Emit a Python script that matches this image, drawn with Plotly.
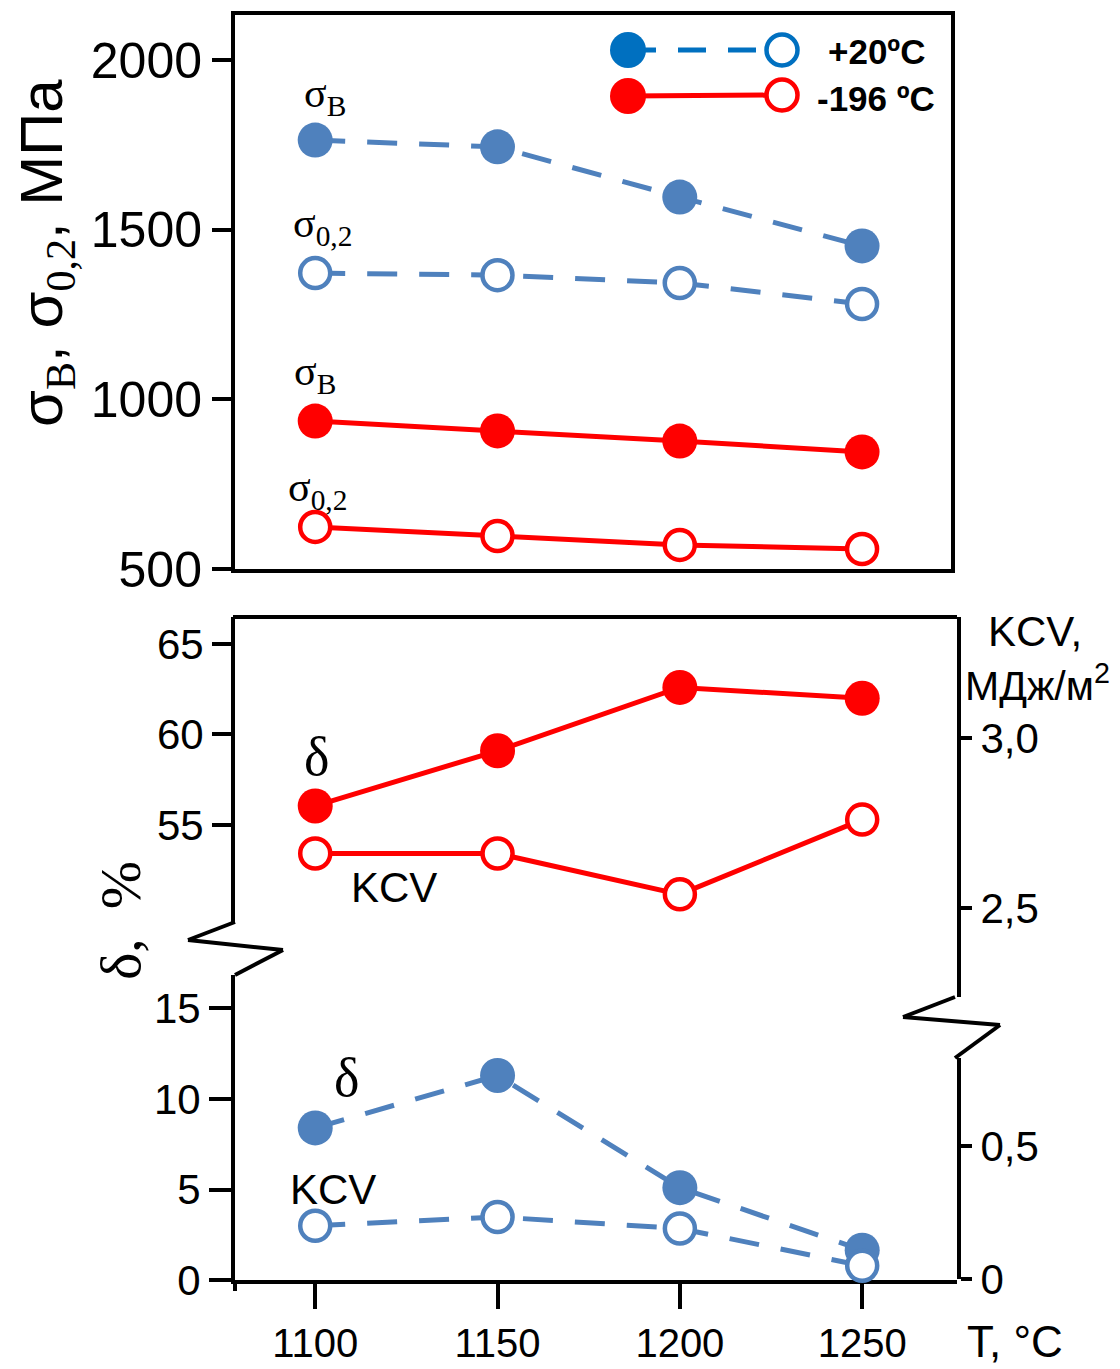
import plotly.graph_objects as go

# ---------------- data ----------------
T = [1100, 1150, 1200, 1250]
sigB_20 = [1764, 1744, 1596, 1452]
sig02_20 = [1372, 1366, 1343, 1281]
sigB_196 = [936, 907, 877, 845]
sig02_196 = [624, 597, 571, 559]
delta_196 = [56.05, 59.1, 62.6, 62.0]
kcv_196 = [2.66, 2.66, 2.54, 2.76]
delta_20 = [8.4, 11.3, 5.1, 1.65]
kcv_20 = [0.20, 0.233, 0.19, 0.05]

x_ticks = [1100, 1150, 1200, 1250]
top_ticks = [500, 1000, 1500, 2000]
delta_up_ticks = [55, 60, 65]
delta_lo_ticks = [0, 5, 10, 15]
kcv_up_ticks = [2.5, 3.0]
kcv_up_text = ["2,5", "3,0"]
kcv_lo_ticks = [0, 0.5]
kcv_lo_text = ["0", "0,5"]

BLUE = "#4F81BD"
LBLUE = "#0070C0"
RED = "#FF0000"
SANS = "Liberation Sans, Arial, sans-serif"
SERIF = "Liberation Serif, Times New Roman, serif"

OFF = 8  # browser body margin
W, H = 1120 - OFF, 1369 - OFF


def fx(p):
    return (p - OFF) / W


def fy(p):
    return 1 - (p - OFF) / H


fig = go.Figure()

DASH = "30px,22px"


def add(xs, ys, color, filled, dashed, xa, ya):
    fig.add_trace(go.Scatter(
        x=xs, y=ys, xaxis=xa, yaxis=ya, mode="lines+markers",
        line=dict(color=color, width=5, dash=DASH if dashed else "solid"),
        marker=dict(
            size=35 if filled else 30,
            color=color if filled else "white",
            line=dict(color=color, width=0 if filled else 4.5),
        ),
        cliponaxis=False, showlegend=False, hoverinfo="skip",
    ))


# top panel
add(T, sigB_20, BLUE, True, True, "x", "y")
add(T, sig02_20, BLUE, False, True, "x", "y")
add(T, sigB_196, RED, True, False, "x", "y")
add(T, sig02_196, RED, False, False, "x", "y")
# bottom panel
add(T, delta_196, RED, True, False, "x2", "y2")
add(T, kcv_196, RED, False, False, "x2", "y4")
add(T, delta_20, BLUE, True, True, "x2", "y3")
add(T, kcv_20, BLUE, False, True, "x2", "y5")

axcommon = dict(showline=True, linecolor="black", linewidth=4, showgrid=False,
                zeroline=False, automargin=False, tickcolor="black", tickwidth=4)

fig.update_layout(
    width=W, height=H,
    margin=dict(l=0, r=0, t=0, b=0),
    paper_bgcolor="white", plot_bgcolor="rgba(0,0,0,0)",
    showlegend=False,
    xaxis=dict(**axcommon, domain=[fx(235), fx(951)], range=[1078, 1274.4],
               anchor="y", mirror=True, ticks="", showticklabels=False),
    yaxis=dict(**axcommon, domain=[fy(569), fy(15)], range=[500, 2132.6],
               anchor="x", mirror=True, ticks="outside", ticklen=19,
               tickvals=top_ticks, tickfont=dict(family=SANS, size=50, color="black")),
    xaxis2=dict(**axcommon, domain=[fx(235), fx(957)], range=[1078, 1276],
                anchor="y3", ticks="outside", ticklen=25, tickvals=x_ticks,
                tickfont=dict(family=SANS, size=40, color="black")),
    yaxis2=dict(**axcommon, domain=[fy(922), fy(617)], range=[49.64, 66.49],
                anchor="x2", ticks="outside", ticklen=19, tickvals=delta_up_ticks,
                tickfont=dict(family=SANS, size=42, color="black")),
    yaxis3=dict(**axcommon, domain=[fy(1280), fy(975)], range=[0, 16.85],
                anchor="x2", ticks="outside", ticklen=22, tickvals=delta_lo_ticks,
                tickfont=dict(family=SANS, size=42, color="black")),
    yaxis4=dict(**axcommon, domain=[fy(997), fy(617)], range=[2.238, 3.356],
                anchor="x2", side="right", ticks="outside", ticklen=11,
                tickvals=kcv_up_ticks, ticktext=kcv_up_text,
                tickfont=dict(family=SANS, size=42, color="black")),
    yaxis5=dict(**axcommon, domain=[fy(1279), fy(1058)], range=[0, 0.831],
                anchor="x2", side="right", ticks="outside", ticklen=11,
                tickvals=kcv_lo_ticks, ticktext=kcv_lo_text,
                tickfont=dict(family=SANS, size=42, color="black")),
)

shapes = []


def pline(pts, color="black", width=4, dash="solid"):
    for (x0, y0), (x1, y1) in zip(pts[:-1], pts[1:]):
        shapes.append(dict(type="line", xref="paper", yref="paper",
                           x0=fx(x0), y0=fy(y0), x1=fx(x1), y1=fy(y1),
                           line=dict(color=color, width=width, dash=dash)))


# bottom panel top border
pline([(233, 617), (957, 617)])
# left axis break
pline([(235, 922), (188, 940), (283, 950), (235, 975)])
# right axis break
pline([(955, 997), (903, 1017), (1000, 1025), (955, 1058)])
# left axis stub below x axis
pline([(235, 1280), (235, 1291)])


def circle(cx, cy, r, color, filled):
    shapes.append(dict(type="circle", xref="paper", yref="paper",
                       x0=fx(cx - r), x1=fx(cx + r), y0=fy(cy + r), y1=fy(cy - r),
                       fillcolor=color if filled else "white",
                       line=dict(color=color, width=0 if filled else 4.5)))


# legend
pline([(628, 50), (782, 50)], color=LBLUE, width=5, dash="28px,22px")
circle(628, 50, 18, LBLUE, True)
circle(782, 50, 15.5, LBLUE, False)
pline([(628, 96), (782, 95)], color=RED, width=5)
circle(628, 96, 18, RED, True)
circle(782, 95, 15.5, RED, False)

fig.update_layout(shapes=shapes)

ann = []


def text(t, x, y, size, family=SANS, xanchor="center", angle=0, bold=False):
    ann.append(dict(text=("<b>%s</b>" % t) if bold else t, xref="paper", yref="paper",
                    x=fx(x), y=fy(y), xanchor=xanchor, yanchor="middle",
                    showarrow=False, textangle=angle,
                    font=dict(family=family, size=size, color="black")))


text("+20ºC", 826, 52, 35, bold=True, xanchor="left")
text("-196 ºC", 815, 98, 35, bold=True, xanchor="left")

# series labels top panel
text("σ<sub>B</sub>", 325, 96, 42, SERIF)
text("σ<sub>0,2</sub>", 322, 226, 42, SERIF)
text("σ<sub>B</sub>", 315, 374, 42, SERIF)
text("σ<sub>0,2</sub>", 317, 490, 42, SERIF)

# bottom labels
text("δ", 316, 757, 54, SERIF)
text("KCV", 394, 887, 42)
text("δ", 346, 1078, 54, SERIF)
text("KCV", 333, 1189, 42)

# axis titles
sub = '<span style="font-family:Liberation Serif">%s</span>'
text("σ<sub>%s</sub>, σ<sub>%s</sub>, МПа" % (sub % "B", sub % "0,2"), 46, 253, 60, angle=-90)
text("δ,  %", 120, 921, 58, SERIF, angle=-90)
text("KCV,", 1035, 631, 42)
text("МДж/м<sup>2</sup>", 1037, 683, 41)
text("T, °C", 1015, 1341, 44)

fig.update_layout(annotations=ann)

fig.write_html("out.html")
